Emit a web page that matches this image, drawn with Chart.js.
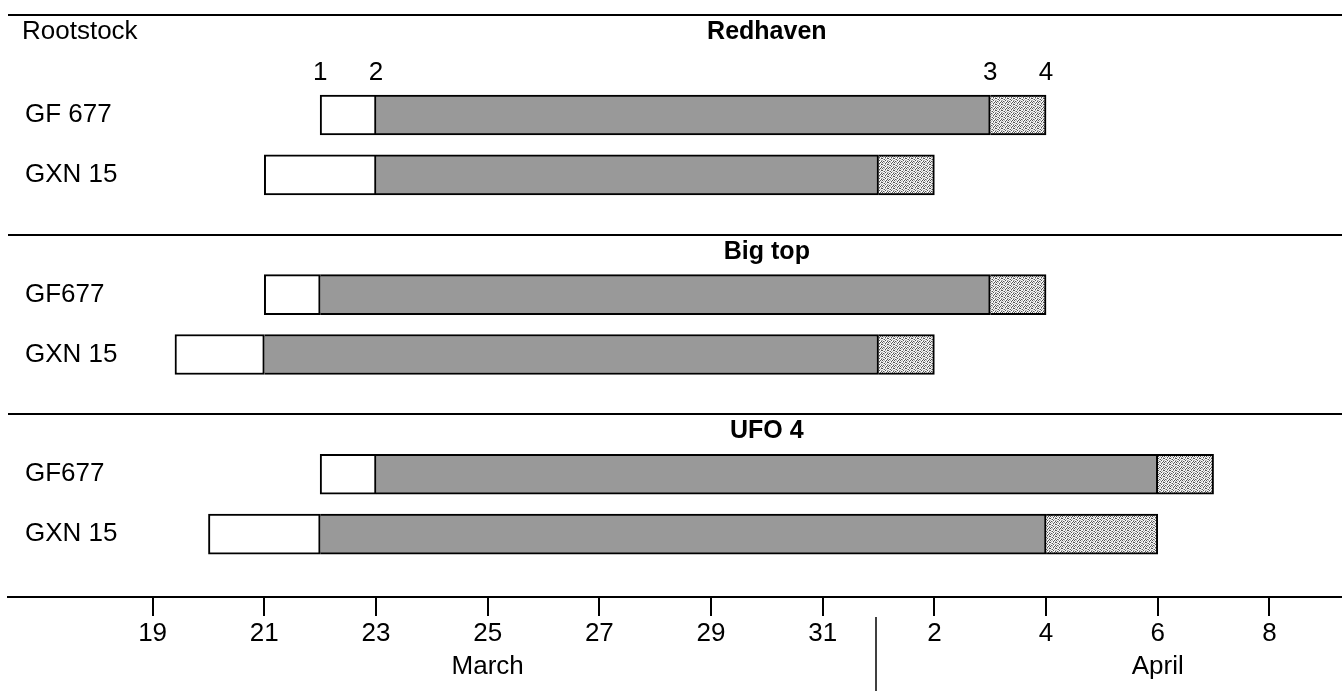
<!DOCTYPE html>
<html>
<head>
<meta charset="utf-8">
<title>Rootstock bloom stages</title>
<script src="https://cdn.jsdelivr.net/npm/chart.js@4.4.1/dist/chart.umd.min.js"></script>
<style>
  html, body { margin: 0; padding: 0; background: #fff; }
  #wrap { position: relative; width: 1342px; height: 691px; }
</style>
</head>
<body>
<div id="wrap"><canvas id="stages"></canvas></div>
<script>
// days counted from 1 March, so April n = 31 + n
var cultivars = ['Redhaven', 'Big top', 'UFO 4'];
var rowLabels = ['GF 677', 'GXN 15', 'GF677', 'GXN 15', 'GF677', 'GXN 15'];
var rowPos = [1, 2, 4, 5, 7, 8];
var panelStarts = [-0.67, 3, 6];
var titleDay = 30;
var stage1 = [22, 21, 21, 19.4, 22, 20];
var stage2 = [23, 23, 22, 21, 23, 22];
var stage3 = [34, 32, 34, 32, 37, 35];
var stage4 = [35, 33, 35, 33, 38, 37];
var stageLabels = ['1', '2', '3', '4'];
var tickDays = [19, 21, 23, 25, 27, 29, 31, 33, 35, 37, 39];
var tickLabels = ['19', '21', '23', '25', '27', '29', '31', '2', '4', '6', '8'];
var months = ['March', 'April'];
var monthCenters = [25, 37];
var monthSplit = 32;

var FONT = '"Liberation Sans", Arial, sans-serif';
Chart.defaults.font.family = FONT;
Chart.defaults.color = '#000';

// stippled fill for the last stage
function stipple() {
  var c = document.createElement('canvas');
  c.width = 6; c.height = 6;
  var g = c.getContext('2d');
  var rows = [
    'dwlwdw',
    'wlwdwl',
    'dwwlwd',
    'wldwlw',
    'lwwdwl',
    'wdlwwd'
  ];
  var col = { d: '#555555', l: '#b4b4b4', w: '#f6f6f6' };
  rows.forEach(function (r, y) {
    for (var x = 0; x < r.length; x++) {
      g.fillStyle = col[r[x]];
      g.fillRect(x, y, 1, 1);
    }
  });
  return g.createPattern(c, 'repeat');
}

function segment(from, to) {
  return rowPos.map(function (y, i) { return { x: [from[i], to[i]], y: y }; });
}

// separators, titles and month labels
var decor = {
  id: 'decor',
  afterDraw: function (chart) {
    var ctx = chart.ctx;
    var area = chart.chartArea;
    var xs = chart.scales.x;
    var ys = chart.scales.y;
    ctx.save();
    ctx.strokeStyle = '#000';
    ctx.lineWidth = 2;
    panelStarts.forEach(function (v) {
      var py = Math.round(ys.getPixelForValue(v));
      ctx.beginPath();
      ctx.moveTo(area.left, py);
      ctx.lineTo(area.right, py);
      ctx.stroke();
    });

    ctx.fillStyle = '#000';
    ctx.textBaseline = 'middle';
    ctx.textAlign = 'center';
    ctx.font = 'bold 25px ' + FONT;
    panelStarts.forEach(function (v, i) {
      ctx.fillText(cultivars[i], xs.getPixelForValue(titleDay), ys.getPixelForValue(v) + 17);
    });

    ctx.font = '26px ' + FONT;
    ctx.textAlign = 'left';
    ctx.fillText('Rootstock', 22, ys.getPixelForValue(panelStarts[0]) + 17);

    ctx.textAlign = 'center';
    var firstRow = ys.getPixelForValue(rowPos[0]) - 42;
    [stage1[0], stage2[0], stage3[0], stage4[0]].forEach(function (d, i) {
      ctx.fillText(stageLabels[i], xs.getPixelForValue(d), firstRow);
    });

    months.forEach(function (m, i) {
      ctx.fillText(m, xs.getPixelForValue(monthCenters[i]), area.bottom + 70);
    });

    var sx = Math.round(xs.getPixelForValue(monthSplit)) - 3;
    ctx.lineWidth = 1.5;
    ctx.beginPath();
    ctx.moveTo(sx, area.bottom + 20);
    ctx.lineTo(sx, chart.height);
    ctx.stroke();
    ctx.restore();
  }
};

var common = {
  borderColor: '#000',
  borderWidth: 2,
  barThickness: 40,
  grouped: false
};

new Chart(document.getElementById('stages'), {
  type: 'bar',
  data: {
    datasets: [
      Object.assign({ label: '1-2', data: segment(stage1, stage2), backgroundColor: '#ffffff', borderSkipped: false }, common),
      Object.assign({ label: '2-3', data: segment(stage2, stage3), backgroundColor: '#999999', borderSkipped: 'left' }, common),
      Object.assign({ label: '3-4', data: segment(stage3, stage4), backgroundColor: stipple(), borderSkipped: 'left' }, common)
    ]
  },
  options: {
    indexAxis: 'y',
    responsive: true,
    maintainAspectRatio: false,
    animation: false,
    layout: { padding: { left: 8, top: 15, right: 0, bottom: 0 } },
    plugins: {
      legend: { display: false },
      tooltip: { enabled: false }
    },
    scales: {
      x: {
        type: 'linear',
        position: 'bottom',
        min: 16.41,
        max: 40.3,
        afterBuildTicks: function (scale) {
          scale.ticks = tickDays.map(function (v) { return { value: v }; });
        },
        afterFit: function (scale) { scale.height = 94; },
        grid: { drawOnChartArea: false, drawTicks: true, tickLength: 19, color: '#000', lineWidth: 2 },
        border: { display: true, color: '#000', width: 2 },
        ticks: {
          autoSkip: false,
          maxRotation: 0,
          padding: 2,
          font: { size: 26 },
          color: '#000',
          callback: function (v, i) { return tickLabels[i]; }
        }
      },
      y: {
        type: 'linear',
        reverse: true,
        offset: false,
        min: -0.67,
        max: 9.05,
        afterBuildTicks: function (scale) {
          scale.ticks = rowPos.map(function (v) { return { value: v }; });
        },
        afterFit: function (scale) {
          scale.width = 0;
          scale.paddingTop = 0;
          scale.paddingBottom = 0;
        },
        grid: { display: false },
        border: { display: false },
        ticks: {
          mirror: true,
          padding: 17,
          font: { size: 26 },
          color: '#000',
          callback: function (v, i) { return rowLabels[i]; }
        }
      }
    }
  },
  plugins: [decor]
});
</script>
</body>
</html>
